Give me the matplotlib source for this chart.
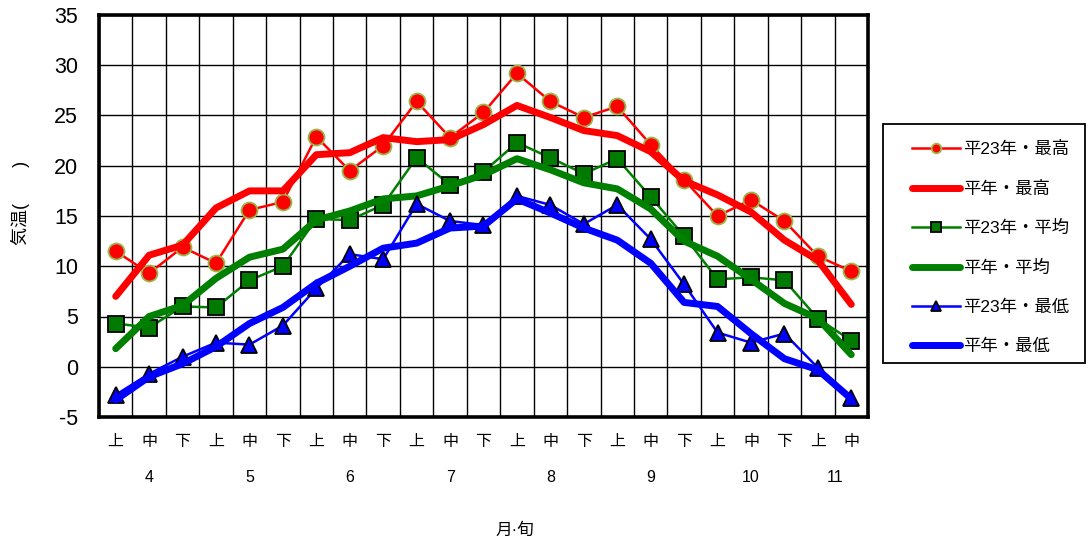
import matplotlib
matplotlib.use("Agg")
import matplotlib.pyplot as plt
import matplotlib.transforms as mtransforms
from matplotlib.patches import Rectangle

decades = ["上", "中", "下", "上", "中", "下", "上", "中", "下", "上", "中", "下",
           "上", "中", "下", "上", "中", "下", "上", "中", "下", "上", "中"]
months = ["4", "5", "6", "7", "8", "9", "10", "11"]
month_centers = [1, 4, 7, 10, 13, 16, 19, 21.5]

h23_max = [11.5, 9.3, 11.9, 10.3, 15.6, 16.4, 22.9, 19.5, 22.0, 26.4, 22.8, 25.3,
           29.2, 26.4, 24.8, 25.9, 22.1, 18.6, 15.0, 16.6, 14.5, 11.0, 9.5]
norm_max = [7.0, 11.1, 12.1, 15.8, 17.5, 17.5, 21.1, 21.3, 22.8, 22.4, 22.6, 24.1,
            26.0, 24.8, 23.5, 23.0, 21.4, 18.5, 17.1, 15.4, 12.6, 10.6, 6.2]
h23_avg = [4.3, 3.9, 6.0, 5.9, 8.6, 10.0, 14.7, 14.6, 16.1, 20.8, 18.1, 19.4,
           22.3, 20.8, 19.2, 20.7, 16.9, 13.0, 8.7, 8.9, 8.6, 4.8, 2.6]
norm_avg = [1.8, 5.0, 6.1, 8.8, 10.9, 11.7, 14.6, 15.5, 16.7, 17.0, 18.0, 19.1,
            20.7, 19.6, 18.3, 17.7, 15.7, 12.5, 11.0, 8.7, 6.3, 4.8, 1.2]
h23_min = [-2.8, -0.7, 1.0, 2.4, 2.2, 4.1, 7.8, 11.2, 10.7, 16.2, 14.5, 14.1,
           17.0, 16.1, 14.2, 16.1, 12.7, 8.2, 3.4, 2.4, 3.3, -0.1, -3.1]
norm_min = [-3.3, -1.0, 0.3, 2.0, 4.3, 5.9, 8.3, 10.0, 11.8, 12.3, 13.8, 14.0,
            16.7, 15.3, 13.8, 12.6, 10.3, 6.4, 6.0, 3.3, 0.8, -0.3, -3.2]

labels = ["平23年・最高", "平年・最高", "平23年・平均", "平年・平均", "平23年・最低", "平年・最低"]

JP = ["Liberation Sans", "Noto Sans CJK JP", "DejaVu Sans"]
plt.rcParams["font.family"] = JP

fig = plt.figure(figsize=(10.88, 5.47), dpi=100)
ax = fig.add_axes([99/1088, 1-417/547, (868-99)/1088, (417-15)/547])

x = list(range(len(decades)))
thin = 1.8
thick = 5.0
ax.plot(x, h23_max, color="#FF0000", lw=thin, marker="o", ms=11.5,
        mfc="#FF0000", mec="#9AB84A", mew=1.3, label=labels[0], zorder=3)
ax.plot(x, norm_max, color="#FF0000", lw=thick, solid_capstyle="round",
        label=labels[1], zorder=4)
ax.plot(x, h23_avg, color="#008000", lw=thin, marker="s", ms=11.5,
        mfc="#007A00", mec="black", mew=1.3, label=labels[2], zorder=5)
ax.plot(x, norm_avg, color="#008000", lw=thick, solid_capstyle="round",
        label=labels[3], zorder=6)
ax.plot(x, h23_min, color="#0000FF", lw=thin, marker="^", ms=12,
        mfc="#0000FF", mec="black", mew=1.3, label=labels[4], zorder=7)
ax.plot(x, norm_min, color="#0000FF", lw=thick, solid_capstyle="round",
        label=labels[5], zorder=8)

ax.set_xlim(-0.5, len(decades) - 0.5)
ax.set_ylim(-5, 35)
ax.set_yticks(range(-5, 36, 5))
ax.set_yticklabels([str(v) for v in range(-5, 36, 5)], fontsize=15.5)
ax.set_xticks(x)
ax.set_xticklabels(decades, fontsize=11.5)
ax.set_xticks([i - 0.5 for i in range(len(decades) + 1)], minor=True)
ax.tick_params(axis="x", which="both", length=0, pad=12)
ax.tick_params(axis="y", length=0, pad=15)
ax.grid(True, which="minor", axis="x", color="black", lw=1.0)
ax.grid(True, which="major", axis="y", color="black", lw=1.0)
for s in ax.spines.values():
    s.set_linewidth(2.6)
    s.set_zorder(10)

trans = mtransforms.blended_transform_factory(ax.transData, fig.transFigure)
for m, c in zip(months, month_centers):
    ax.text(c, 1 - 477/547, m, transform=trans, ha="center", va="center",
            fontsize=11.5)
fig.text(515/1088, 1 - 530/547, "月·旬", ha="center", va="center", fontsize=12)
fig.text(20/1088, 1 - 203/547, "気温(　　)", rotation=90, ha="center",
         va="center", fontsize=13)

fig.patches.append(Rectangle((883/1088, 1 - 363/547), (1085-883)/1088, (363-124)/547,
                             transform=fig.transFigure, fill=False,
                             edgecolor="black", lw=1.3))
leg = fig.legend(loc="upper left", bbox_to_anchor=(912/1088, 1 - 141/547),
                 fontsize=12.5, frameon=False, markerscale=0.6,
                 handlelength=2.75, labelspacing=1.36, borderpad=0,
                 handletextpad=0.2, borderaxespad=0)

fig.savefig("out.png", dpi=100)
